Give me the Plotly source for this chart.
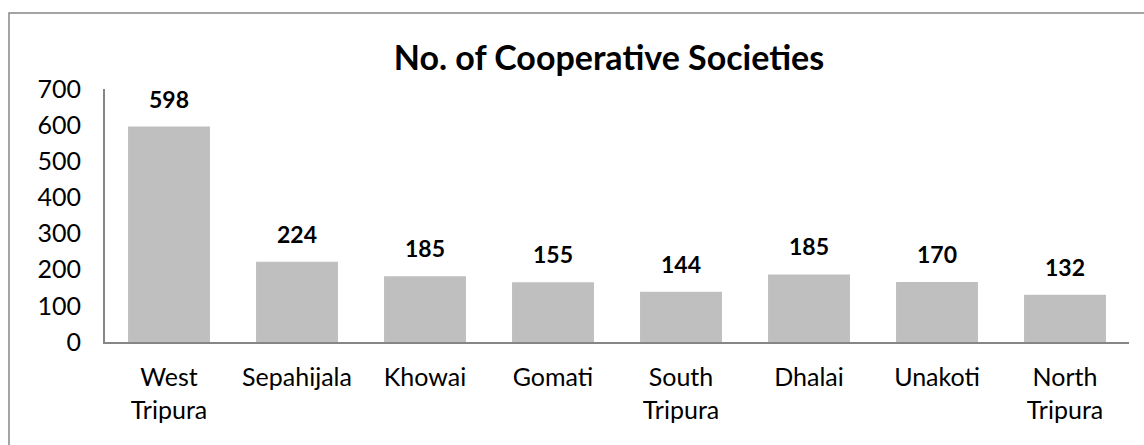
import plotly.graph_objects as go

districts = ["West<br>Tripura", "Sepahijala", "Khowai", "Gomati", "South<br>Tripura",
             "Dhalai", "Unakoti", "North<br>Tripura"]
bar_heights = [596, 222, 182, 165, 139, 187, 166, 131]
label_values = [598, 224, 185, 155, 144, 185, 170, 132]
y_ticks = [0, 100, 200, 300, 400, 500, 600, 700]

FONT = "Lato, 'Open Sans', sans-serif"

fig = go.Figure(go.Bar(
    x=districts,
    y=bar_heights,
    marker=dict(color="#BFBFBF", line=dict(width=0)),
    hoverinfo="x+y",
))

for d, h, v in zip(districts, bar_heights, label_values):
    fig.add_annotation(x=d, y=h, text=f"<b>{v}</b>", showarrow=False,
                       yanchor="middle", yshift=28,
                       font=dict(family=FONT, size=23, color="black"))

L, R, T, B = 105, 15, 89, 103
W, H = 1144, 445
pw, ph = W - L - R, H - T - B

fig.update_layout(
    width=W, height=H,
    margin=dict(l=L, r=R, t=T, b=B, autoexpand=False),
    paper_bgcolor="white", plot_bgcolor="white",
    bargap=0.36,
    showlegend=False,
    title=dict(text="<b>No. of Cooperative Societies</b>",
               font=dict(family=FONT, size=34, color="black"),
               x=(609 - L) / pw, xref="paper", xanchor="center",
               y=1 - 58 / H, yref="container", yanchor="middle"),
    font=dict(family=FONT, size=25, color="black"),
    xaxis=dict(showline=True, linecolor="#868686", linewidth=2,
               ticks="", showgrid=False, ticklabelstandoff=12,
               tickfont=dict(family=FONT, size=25, color="black")),
    yaxis=dict(range=[0, 700], tickvals=y_ticks, showline=True,
               linecolor="#868686", linewidth=2, ticks="", showgrid=False,
               zeroline=False, ticklabelstandoff=17,
               tickfont=dict(family=FONT, size=25, color="black")),
    shapes=[dict(type="rect", xref="paper", yref="paper",
                 x0=(9 - L) / pw, x1=(1160 - L) / pw,
                 y0=(H - B - 470) / ph, y1=(H - B - 13) / ph,
                 line=dict(color="#868686", width=1.5), fillcolor="rgba(0,0,0,0)",
                 layer="below")],
)

fig.write_html("out.html", config={"displayModeBar": False},
               post_script="document.body.style.margin='0px';document.body.style.overflow='hidden';")
